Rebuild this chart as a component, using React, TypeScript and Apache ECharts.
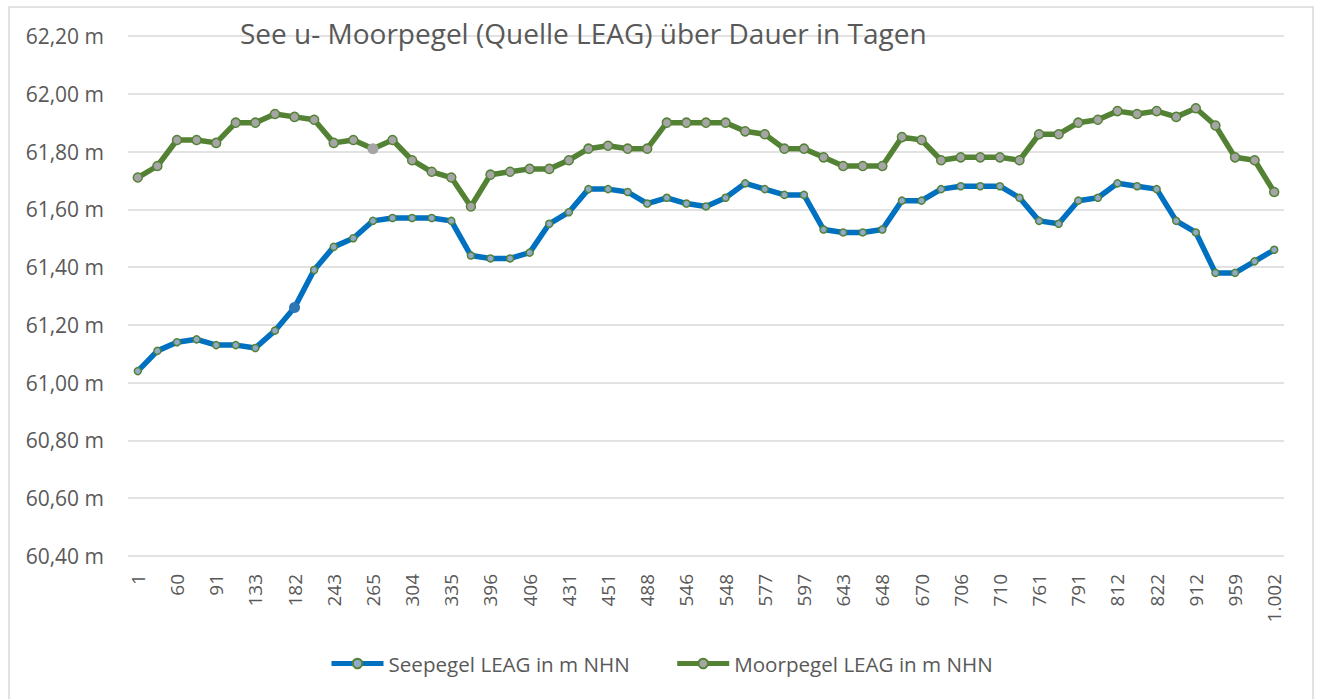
import React, { useEffect, useRef } from "react";
import * as echarts from "echarts";

const dayLabels = ["1", "60", "91", "133", "182", "243", "265", "304", "335", "396", "406", "431", "451", "488", "546", "548", "577", "597", "643", "648", "670", "706", "710", "761", "791", "812", "822", "912", "959", "1.002"];

// 59 measurement points; only every other category label is shown in the source
const seepegel = [61.04, 61.11, 61.14, 61.15, 61.13, 61.13, 61.12, 61.18, 61.26, 61.39, 61.47, 61.50, 61.56, 61.57, 61.57, 61.57, 61.56, 61.44, 61.43, 61.43, 61.45, 61.55, 61.59, 61.67, 61.67, 61.66, 61.62, 61.64, 61.62, 61.61, 61.64, 61.69, 61.67, 61.65, 61.65, 61.53, 61.52, 61.52, 61.53, 61.63, 61.63, 61.67, 61.68, 61.68, 61.68, 61.64, 61.56, 61.55, 61.63, 61.64, 61.69, 61.68, 61.67, 61.56, 61.52, 61.38, 61.38, 61.42, 61.46];

const moorpegel = [61.71, 61.75, 61.84, 61.84, 61.83, 61.90, 61.90, 61.93, 61.92, 61.91, 61.83, 61.84, 61.81, 61.84, 61.77, 61.73, 61.71, 61.61, 61.72, 61.73, 61.74, 61.74, 61.77, 61.81, 61.82, 61.81, 61.81, 61.90, 61.90, 61.90, 61.90, 61.87, 61.86, 61.81, 61.81, 61.78, 61.75, 61.75, 61.75, 61.85, 61.84, 61.77, 61.78, 61.78, 61.78, 61.77, 61.86, 61.86, 61.90, 61.91, 61.94, 61.93, 61.94, 61.92, 61.95, 61.89, 61.78, 61.77, 61.66];

const seeName = "Seepegel LEAG in m NHN";
const moorName = "Moorpegel LEAG in m NHN";
const titleText = "See u- Moorpegel (Quelle LEAG) über Dauer in Tagen";

const FONT = "'Open Sans', 'Noto Sans', sans-serif";
const TEXT = "#595959";

export default function App() {
  const ref = useRef<HTMLDivElement>(null);
  useEffect(() => {
    if (!ref.current) return;
    const chart = echarts.init(ref.current, null, { renderer: "svg" });
    const categories: string[] = [];
    for (let i = 0; i < seepegel.length; i++) {
      categories.push(i % 2 === 0 ? dayLabels[i / 2] : "");
    }
    const seeData = seepegel.map((v, i) =>
      i === 8
        ? { value: v, symbolSize: 11, itemStyle: { color: "#2E75B6", borderWidth: 0 } }
        : v
    );
    const moorData = moorpegel.map((v, i) =>
      i === 12
        ? { value: v, symbolSize: 11, itemStyle: { color: "#A5A5A5", borderWidth: 0 } }
        : v
    );
    chart.setOption({
      animation: false,
      textStyle: { fontFamily: FONT },
      grid: { left: 128, right: 34, top: 36, bottom: 143, containLabel: false },
      graphic: [
        {
          type: "rect",
          shape: { x: 9, y: 7, width: 1304, height: 710 },
          style: { fill: "none", stroke: "#D9D9D9", lineWidth: 1.5 },
          silent: true,
          z: -10,
        },
        {
          type: "text",
          x: 240,
          y: 33,
          z: 100,
          style: {
            text: titleText,
            font: `28px ${FONT}`,
            fill: TEXT,
            textVerticalAlign: "middle",
          },
        },
      ],
      legend: {
        data: [seeName, moorName],
        left: 329,
        top: 653,
        itemWidth: 52,
        itemHeight: 12,
        itemGap: 45,
        padding: 0,
        lineStyle: { width: 5 },
        textStyle: { fontSize: 20.6, color: TEXT, fontFamily: FONT },
      },
      xAxis: {
        type: "category",
        data: categories,
        boundaryGap: true,
        axisLine: { show: false },
        axisTick: { show: false },
        axisLabel: {
          interval: 0,
          rotate: 90,
          margin: 18,
          fontSize: 19,
          color: TEXT,
          fontFamily: FONT,
        },
      },
      yAxis: {
        type: "value",
        min: 60.4,
        max: 62.2,
        interval: 0.2,
        axisLine: { show: false },
        axisTick: { show: false },
        splitLine: { lineStyle: { color: "#D9D9D9", width: 1.5 } },
        axisLabel: {
          margin: 24,
          fontSize: 21,
          color: TEXT,
          fontFamily: FONT,
          formatter: (v: number) => v.toFixed(2).replace(".", ",") + " m",
        },
      },
      series: [
        {
          name: seeName,
          type: "line",
          data: seeData,
          symbol: "circle",
          symbolSize: 7,
          lineStyle: { color: "#0070C0", width: 5.5 },
          itemStyle: { color: "#8FAACB", borderColor: "#548235", borderWidth: 1.5 },
          z: 2,
        },
        {
          name: moorName,
          type: "line",
          data: moorData,
          symbol: "circle",
          symbolSize: 9,
          lineStyle: { color: "#548235", width: 5.5 },
          itemStyle: { color: "#A5A5A5", borderColor: "#548235", borderWidth: 1.5 },
          z: 3,
        },
      ],
    });
    return () => chart.dispose();
  }, []);
  return (
    <div
      ref={ref}
      style={{ position: "fixed", left: 0, top: 0, width: 1318, height: 699, background: "#fff" }}
    />
  );
}
